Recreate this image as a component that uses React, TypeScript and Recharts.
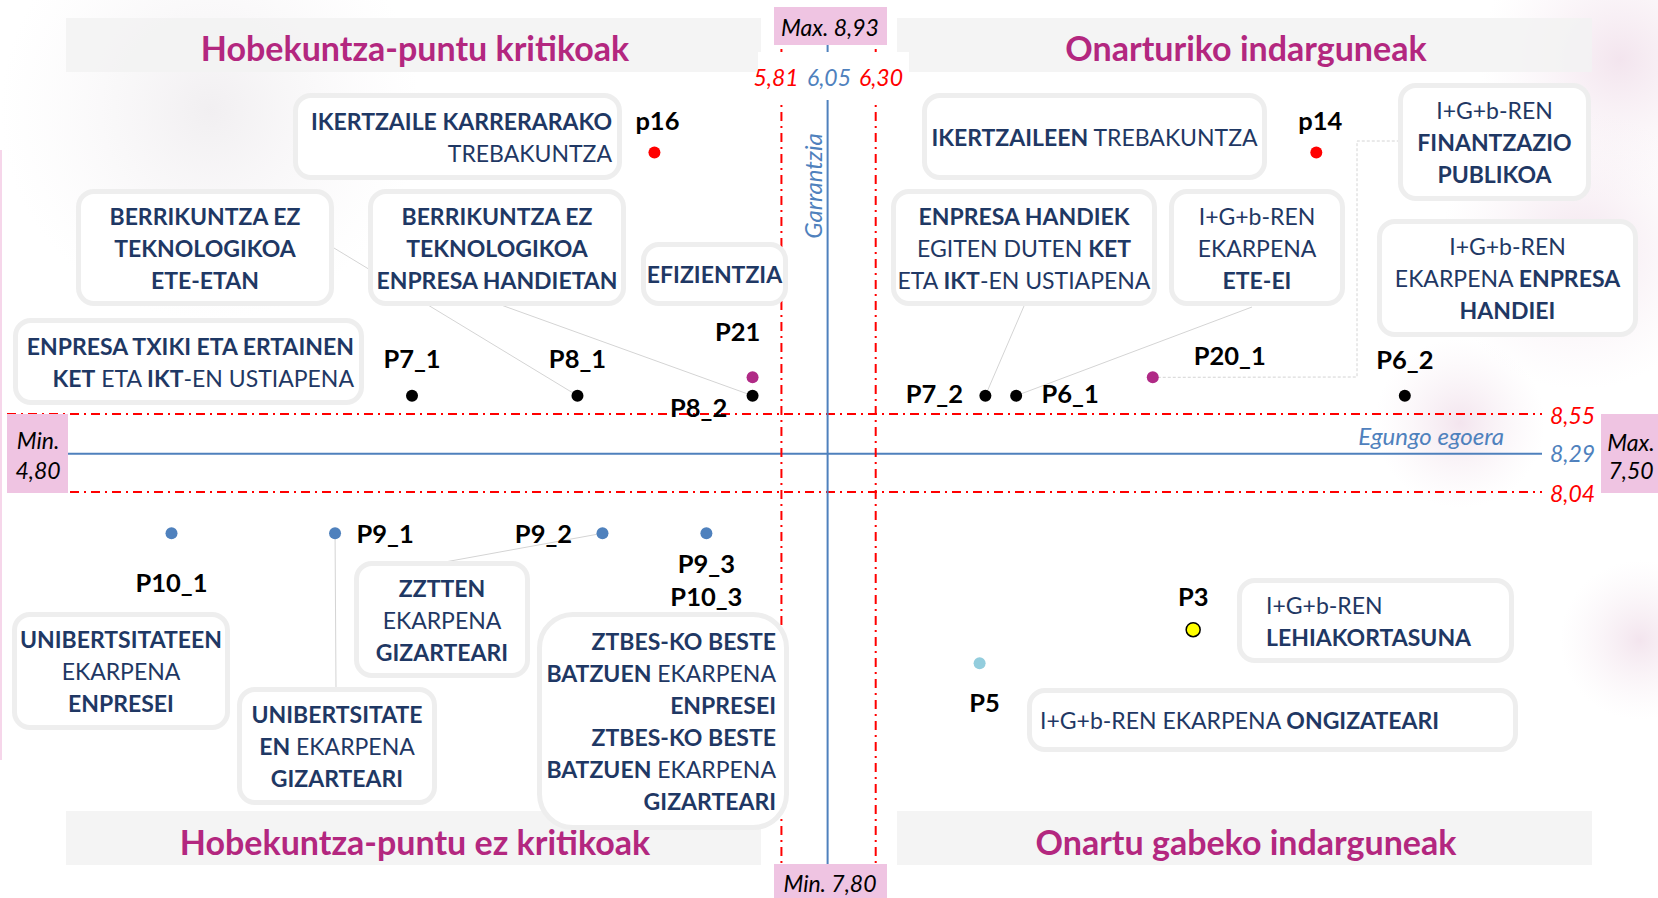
import React from "react";
import { ScatterChart, Scatter, XAxis, YAxis, ReferenceLine } from "recharts";

// puntuak: izena, egungo egoera (x), garrantzia (y)
const pointNames = ["p16", "p14", "P7_1", "P8_1", "P8_2", "P21", "P7_2", "P6_1", "P20_1", "P6_2", "P10_1", "P9_1", "P9_2", "P9_3", "P5", "P3"];
const currentState = [5.15, 8.59, 3.89, 4.75, 5.66, 5.66, 6.87, 7.03, 7.74, 9.05, 2.64, 3.49, 4.88, 5.42, 6.84, 7.95];
const importance = [10.26, 10.26, 8.67, 8.67, 8.67, 8.79, 8.67, 8.67, 8.79, 8.67, 7.77, 7.77, 7.77, 7.77, 6.92, 7.14];
const pointKind = ["red", "red", "black", "black", "black", "magenta", "black", "black", "magenta", "black", "blue", "blue", "blue", "blue", "light", "yellow"];
const sharedLabel = ["", "", "", "", "", "", "", "", "", "", "", "", "", "P10_3", "", ""];
const kinds = ["red", "black", "magenta", "blue", "light", "yellow"];

// batez bestekoak eta tarteak
const stateMean = 6.05;
const stateLow = 5.81;
const stateHigh = 6.3;
const impMean = 8.29;
const impHigh = 8.55;
const impLow = 8.04;
const stateMin = 4.8;
const stateMax = 7.5;
const impMax = 8.93;
const impMin = 7.8;

const quadrantTitles = ["Hobekuntza-puntu kritikoak", "Onarturiko indarguneak", "Hobekuntza-puntu ez kritikoak", "Onartu gabeko indarguneak"];

const rows = pointNames.map((name, i) => ({
  name,
  x: currentState[i],
  y: importance[i],
  kind: pointKind[i],
  extra: sharedLabel[i],
}));

const fmt = (v: number) => v.toFixed(2).replace(".", ",");

const X_DOMAIN = [1.785, 9.763];
const Y_DOMAIN = [5.385, 11.212];

const FONT = "Lato, 'Open Sans', sans-serif";
const NAVY = "#1f3864";
const PINK = "#efc4e2";
const TITLE = "#b3277f";
const RED = "#ff0000";
const BLUE = "#4f81bd";

const KIND_STYLE: Record<string, { fill: string; r: number; stroke?: string }> = {
  red: { fill: "#ff0000", r: 6 },
  black: { fill: "#000000", r: 6 },
  magenta: { fill: "#b02a86", r: 6 },
  blue: { fill: "#4f81bd", r: 6 },
  light: { fill: "#93cddd", r: 6 },
  yellow: { fill: "#ffff00", r: 7, stroke: "#000" },
};

// etiketen kokapena puntuarekiko (px)
const LABEL_POS: Record<string, [number, number]> = {
  p16: [3, -33], p14: [4, -33], P7_1: [0, -38], P8_1: [0, -38], P8_2: [-54, 11],
  P21: [-15, -46], P7_2: [-51, -3], P6_1: [54, -3], P20_1: [77, -22], P6_2: [0, -37],
  P10_1: [0, 49], P9_1: [50, 0], P9_2: [-59, 0], P9_3: [0, 30], P5: [5, 39], P3: [0, -34],
};

// lotura-marrak kutxetara (px)
const LINKS: Record<string, number[][]> = {
  P8_1: [[334, 248]],
  P8_2: [[490, 301]],
  P7_2: [[1024, 306]],
  P6_1: [[1252, 307]],
  P9_1: [[336, 690]],
  P9_2: [[445, 562]],
  P20_1: [[1357, 377], [1357, 141], [1400, 141]],
};

type Seg = [string, boolean];
type Box = { l: number; t: number; w: number; h: number; align: "left" | "center" | "right"; pad?: number; radius?: number; lines: Seg[][] };

const BOXES: Box[] = [
  { l: 293, t: 93, w: 329, h: 87, align: "right", pad: 5, lines: [[["IKERTZAILE KARRERARAKO", true]], [["TREBAKUNTZA", false]]] },
  { l: 76, t: 189, w: 258, h: 117, align: "center", lines: [[["BERRIKUNTZA EZ", true]], [["TEKNOLOGIKOA", true]], [["ETE-ETAN", true]]] },
  { l: 368, t: 189, w: 258, h: 117, align: "center", lines: [[["BERRIKUNTZA EZ", true]], [["TEKNOLOGIKOA", true]], [["ENPRESA HANDIETAN", true]]] },
  { l: 641, t: 242, w: 147, h: 64, align: "center", lines: [[["EFIZIENTZIA", true]]] },
  { l: 13, t: 318, w: 351, h: 87, align: "right", pad: 5, lines: [[["ENPRESA TXIKI ETA ERTAINEN", true]], [["KET", true], [" ETA ", false], ["IKT", true], ["-EN USTIAPENA", false]]] },
  { l: 922, t: 93, w: 345, h: 87, align: "center", lines: [[["IKERTZAILEEN", true], [" TREBAKUNTZA", false]]] },
  { l: 891, t: 189, w: 266, h: 117, align: "center", lines: [[["ENPRESA HANDIEK", true]], [["EGITEN DUTEN ", false], ["KET", true]], [["ETA ", false], ["IKT", true], ["-EN USTIAPENA", false]]] },
  { l: 1169, t: 189, w: 176, h: 117, align: "center", lines: [[["I+G+b-REN", false]], [["EKARPENA", false]], [["ETE-EI", true]]] },
  { l: 1398, t: 83, w: 193, h: 118, align: "center", lines: [[["I+G+b-REN", false]], [["FINANTZAZIO", true]], [["PUBLIKOA", true]]] },
  { l: 1377, t: 219, w: 261, h: 118, align: "center", lines: [[["I+G+b-REN", false]], [["EKARPENA ", false], ["ENPRESA", true]], [["HANDIEI", true]]] },
  { l: 354, t: 561, w: 176, h: 117, align: "center", lines: [[["ZZTTEN", true]], [["EKARPENA", false]], [["GIZARTEARI", true]]] },
  { l: 12, t: 612, w: 218, h: 118, align: "center", lines: [[["UNIBERTSITATEEN", true]], [["EKARPENA", false]], [["ENPRESEI", true]]] },
  { l: 237, t: 687, w: 200, h: 118, align: "center", lines: [[["UNIBERTSITATE", true]], [["EN", true], [" EKARPENA", false]], [["GIZARTEARI", true]]] },
  {
    l: 537, t: 612, w: 252, h: 218, align: "right", pad: 8, radius: 36,
    lines: [[["ZTBES-KO BESTE", true]], [["BATZUEN", true], [" EKARPENA", false]], [["ENPRESEI", true]], [["ZTBES-KO BESTE", true]], [["BATZUEN", true], [" EKARPENA", false]], [["GIZARTEARI", true]]],
  },
  { l: 1237, t: 578, w: 277, h: 85, align: "left", pad: 24, lines: [[["I+G+b-REN", false]], [["LEHIAKORTASUNA", true]]] },
  { l: 1027, t: 688, w: 491, h: 64, align: "left", pad: 8, lines: [[["I+G+b-REN EKARPENA ", false], ["ONGIZATEARI", true]]] },
];

const renderPoint = (props: any) => {
  const { cx, cy, payload } = props;
  if (cx == null || cy == null) return <g />;
  const st = KIND_STYLE[payload.kind];
  const [dx, dy] = LABEL_POS[payload.name] || [0, -35];
  const link = LINKS[payload.name];
  const labels = payload.extra ? [payload.name, payload.extra] : [payload.name];
  return (
    <g>
      {link && (
        <polyline
          points={[[cx, cy], ...link].map((p) => p.join(",")).join(" ")}
          fill="none"
          stroke="#d4d4d4"
          strokeWidth={1}
          strokeDasharray={payload.name === "P20_1" ? "3 2" : undefined}
        />
      )}
      <circle cx={cx} cy={cy} r={st.r} fill={st.fill} stroke={st.stroke || "none"} strokeWidth={1.5} />
      {labels.map((t, i) => (
        <text
          key={t}
          x={cx + dx}
          y={cy + dy + i * 33}
          textAnchor="middle"
          dominantBaseline="central"
          fontFamily={FONT}
          fontWeight={700}
          fontSize={25.5}
          fill="#000"
        >
          {t}
        </text>
      ))}
    </g>
  );
};

function TextBox({ b }: { b: Box }) {
  return (
    <div
      style={{
        position: "absolute",
        left: b.l,
        top: b.t,
        width: b.w,
        height: b.h,
        boxSizing: "border-box",
        border: "5px solid #eeeeee",
        borderRadius: b.radius || 18,
        background: "#fff",
        display: "flex",
        flexDirection: "column",
        justifyContent: "center",
        textAlign: b.align,
        paddingLeft: b.align === "left" ? b.pad : 0,
        paddingRight: b.align === "right" ? b.pad : 0,
        fontFamily: FONT,
        fontSize: 23,
        lineHeight: "32px",
        color: NAVY,
        whiteSpace: "nowrap",
      }}
    >
      {b.lines.map((line, i) => (
        <div key={i}>
          {line.map(([t, bold], j) => (
            <span key={j} style={{ fontWeight: bold ? 700 : 400 }}>
              {t}
            </span>
          ))}
        </div>
      ))}
    </div>
  );
}

const italic = { fontFamily: FONT, fontStyle: "italic" as const, fontSize: 23 };

export default function App() {
  return (
    <div style={{ position: "absolute", left: 0, top: 0, width: 1658, height: 898, background: "#fff", overflow: "hidden" }}>
      {/* atzeko orban arrosak */}
      <svg width={1658} height={898} style={{ position: "absolute", left: 0, top: 0 }}>
        <defs>
          <radialGradient id="blob">
            <stop offset="0%" stopColor="#e9cfe0" stopOpacity={0.55} />
            <stop offset="100%" stopColor="#f3e6ee" stopOpacity={0} />
          </radialGradient>
          <radialGradient id="blobGray">
            <stop offset="0%" stopColor="#e6e2e6" stopOpacity={0.55} />
            <stop offset="100%" stopColor="#f1eef1" stopOpacity={0} />
          </radialGradient>
        </defs>
        <circle cx={210} cy={110} r={210} fill="url(#blobGray)" />
        <circle cx={1620} cy={60} r={140} fill="url(#blob)" />
        <circle cx={1580} cy={250} r={140} fill="url(#blob)" />
        <circle cx={1460} cy={423} r={85} fill="url(#blob)" />
        <circle cx={1640} cy={640} r={80} fill="url(#blob)" />
        <line x1={1} y1={150} x2={1} y2={760} stroke="#f6d6ea" strokeWidth={2} />
      </svg>

      <div style={{ position: "absolute", left: 0, top: 0 }}>
        <ScatterChart width={1658} height={898} margin={{ top: 7, right: 116, bottom: 0, left: 7 }}>
          <XAxis type="number" dataKey="x" domain={X_DOMAIN} allowDataOverflow hide />
          <YAxis type="number" dataKey="y" domain={Y_DOMAIN} allowDataOverflow hide />
          <ReferenceLine y={impHigh} stroke={RED} strokeWidth={2} strokeDasharray="9 5 2 5" />
          <ReferenceLine y={impLow} stroke={RED} strokeWidth={2} strokeDasharray="9 5 2 5" />
          <ReferenceLine y={impMean} stroke={BLUE} strokeWidth={2} />
          <ReferenceLine x={stateLow} stroke={RED} strokeWidth={2} strokeDasharray="9 5 2 5" />
          <ReferenceLine x={stateHigh} stroke={RED} strokeWidth={2} strokeDasharray="9 5 2 5" />
          <ReferenceLine x={stateMean} stroke={BLUE} strokeWidth={2} />
          {kinds.map((k) => (
            <Scatter key={k} data={rows.filter((r) => r.kind === k)} shape={renderPoint} isAnimationActive={false} />
          ))}
        </ScatterChart>
      </div>

      {/* koadranteen izenburuak eta ardatzen etiketak */}
      <svg width={1658} height={898} style={{ position: "absolute", left: 0, top: 0, pointerEvents: "none" }}>
        <rect x={66} y={18} width={695} height={54} fill="#f2f2f2" fillOpacity={0.85} />
        <rect x={897} y={18} width={695} height={54} fill="#f2f2f2" fillOpacity={0.85} />
        <rect x={66} y={811} width={695} height={54} fill="#f2f2f2" fillOpacity={0.85} />
        <rect x={897} y={811} width={695} height={54} fill="#f2f2f2" fillOpacity={0.85} />
        {[[415, 47], [1246, 47], [415, 841], [1246, 841]].map(([x, y], i) => (
          <text key={i} x={x} y={y} textAnchor="middle" dominantBaseline="central" fontFamily={FONT} fontWeight={700} fontSize={34} fill={TITLE}>
            {quadrantTitles[i]}
          </text>
        ))}

        <rect x={758} y={52} width={151} height={48} fill="#fff" />
        <text x={776} y={77} textAnchor="middle" dominantBaseline="central" {...italic} fill={RED}>{fmt(stateLow)}</text>
        <text x={829} y={77} textAnchor="middle" dominantBaseline="central" {...italic} fill={BLUE}>{fmt(stateMean)}</text>
        <text x={881} y={77} textAnchor="middle" dominantBaseline="central" {...italic} fill={RED}>{fmt(stateHigh)}</text>

        <rect x={774} y={7} width={113} height={38} fill={PINK} />
        <text x={830} y={27} textAnchor="middle" dominantBaseline="central" {...italic} fill="#000">{`Max. ${fmt(impMax)}`}</text>
        <rect x={774} y={864} width={113} height={34} fill={PINK} />
        <text x={830} y={883} textAnchor="middle" dominantBaseline="central" {...italic} fill="#000">{`Min. ${fmt(impMin)}`}</text>

        <rect x={7} y={414} width={61} height={79} fill={PINK} />
        <text x={38} y={440} textAnchor="middle" dominantBaseline="central" {...italic} fill="#000">Min.</text>
        <text x={38} y={470} textAnchor="middle" dominantBaseline="central" {...italic} fill="#000">{fmt(stateMin)}</text>
        <rect x={1601} y={414} width={57} height={79} fill={PINK} />
        <text x={1631} y={442} textAnchor="middle" dominantBaseline="central" {...italic} fill="#000">Max.</text>
        <text x={1631} y={470} textAnchor="middle" dominantBaseline="central" {...italic} fill="#000">{fmt(stateMax)}</text>

        <text x={1550} y={415} dominantBaseline="central" {...italic} fill={RED}>{fmt(impHigh)}</text>
        <text x={1550} y={453} dominantBaseline="central" {...italic} fill={BLUE}>{fmt(impMean)}</text>
        <text x={1550} y={493} dominantBaseline="central" {...italic} fill={RED}>{fmt(impLow)}</text>

        <text x={1504} y={435} textAnchor="end" dominantBaseline="central" {...italic} fontSize={24} fill={BLUE}>Egungo egoera</text>
        <text x={812} y={186} textAnchor="middle" dominantBaseline="central" transform="rotate(-90 812 186)" {...italic} fontSize={24} fill={BLUE}>Garrantzia</text>
      </svg>

      {BOXES.map((b, i) => (
        <TextBox key={i} b={b} />
      ))}
    </div>
  );
}
